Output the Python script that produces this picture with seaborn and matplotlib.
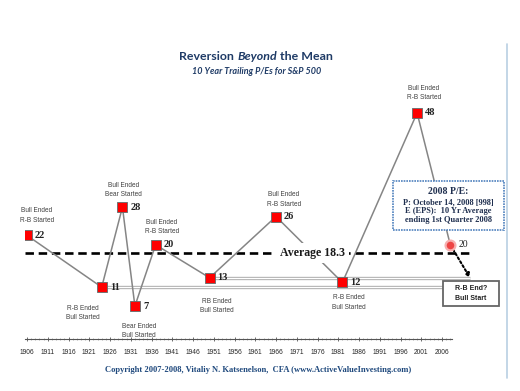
"""
Reversion Beyond the Mean - 10 year trailing P/Es for the S&P 500.
"""
import matplotlib
matplotlib.use("Agg")
import matplotlib.pyplot as plt
import matplotlib.patches as mpatches
import seaborn as sns
import pandas as pd

# Data
years = [1906, 1924, 1929, 1932, 1937, 1950, 1966, 1982, 2000]
pe_values = [22, 11, 28, 7, 20, 13, 26, 12, 48]
notes = ["Bull Ended\nR-B Started", "R-B Ended\nBull Started", "Bull Ended\nBear Started",
         "Bear Ended\nBull Started", "Bull Ended\nR-B Started", "RB Ended\nBull Started",
         "Bull Ended\nR-B Started", "R-B Ended\nBull Started", "Bull Ended\nR-B Started"]
current_year = 2008
current_pe = 20
average_pe = 18.3
tick_years = list(range(1906, 2007, 5))
box_lines = ["P: October 14, 2008 [998]", "E (EPS):  10 Yr Average", "ending 1st Quarter 2008"]

df = pd.DataFrame({"year": years, "pe": pe_values})
df_line = pd.concat([df, pd.DataFrame({"year": [current_year], "pe": [current_pe]})],
                    ignore_index=True)

sns.set_theme(style="white")
plt.rcParams["font.family"] = ["Liberation Sans", "DejaVu Sans"]

W, H = 520, 391
fig = plt.figure(figsize=(W / 100, H / 100), dpi=100)
ax = fig.add_axes([25 / W, 1 - 339 / H, 427 / W, 235.5 / H])

px_per_year = 4.15
ax.set_xlim(1906 - 2 / px_per_year, 1906 + 425 / px_per_year)
ax.set_ylim(0, 50)

# main series
sns.lineplot(data=df_line, x="year", y="pe", color="#858585", lw=1.1, ax=ax, zorder=3)
sns.scatterplot(data=df, x="year", y="pe", marker="s", s=46, color="#ff0000",
                edgecolor="#5f6f6f", linewidth=0.6, ax=ax, zorder=5)
ax.scatter([current_year], [current_pe], s=50, color="#ee4444", edgecolor="#f6b0b0",
           linewidth=1.6, zorder=6, clip_on=False)

# reference lines from the lows
end_13 = 1906 + 443 / px_per_year
end_11 = 1906 + 416 / px_per_year
for yr, val, end in [(years[5], pe_values[5], end_13), (years[1], pe_values[1], end_11)]:
    ax.plot([yr, end], [val, val], color="#b0b0b0", lw=2.4, zorder=2, clip_on=False,
            solid_capstyle="butt")
    ax.plot([yr, end], [val, val], color="white", lw=0.9, zorder=2, clip_on=False,
            solid_capstyle="butt")

# average line
ax.plot([ax.get_xlim()[0], 1906 + 445 / px_per_year], [average_pe, average_pe],
        color="black", lw=1.9, linestyle=(0, (3.2, 1.8)), zorder=1, clip_on=False)
ax.text(1906 + 285 / px_per_year, average_pe, f"Average {average_pe}",
        family="Liberation Serif", fontweight="bold", fontsize=8.6, color="#1a1a1a",
        ha="center", va="center", zorder=4,
        bbox=dict(facecolor="white", edgecolor="none", pad=3))

# dotted arrow to the R-B box
ax.annotate("", xy=(end_13, pe_values[5]), xytext=(current_year, current_pe),
            arrowprops=dict(arrowstyle="-|>", linestyle=(0, (1, 1.2)), lw=1.5,
                            color="black", shrinkA=4, shrinkB=0, mutation_scale=6),
            annotation_clip=False, zorder=4)

# value labels and notes
note_offsets = [(10, 20), (-19, -26), (1, 17), (4, -25), (6, 18),
                (7, -28), (8, 17), (6, -20), (7, 20)]
for yr, val, note, (dx, dy) in zip(years, pe_values, notes, note_offsets):
    ax.annotate(str(val), (yr, val), xytext=(8, 0), textcoords="offset pixels",
                family="Liberation Serif", fontweight="bold", fontsize=7.5,
                color="#222222", ha="left", va="center", zorder=6)
    ax.annotate(note, (yr, val), xytext=(dx, dy), textcoords="offset pixels",
                fontsize=4.7, color="#404040", ha="center", va="center",
                linespacing=1.45, annotation_clip=False)
ax.annotate(str(current_pe), (current_year, current_pe), xytext=(8, 0),
            textcoords="offset pixels", family="Liberation Serif", fontsize=7,
            color="#222222", ha="left", va="center", annotation_clip=False)

# axes styling
for side in ["left", "right", "top"]:
    ax.spines[side].set_visible(False)
ax.spines["bottom"].set_color("#555555")
ax.spines["bottom"].set_linewidth(0.8)
ax.set_xticks(tick_years)
ax.set_xticks(range(1906, 2009), minor=True)
ax.set_xticklabels([str(t) for t in tick_years])
ax.tick_params(axis="x", which="major", direction="inout", length=3, width=0.6,
               color="#555555", labelsize=4.8, pad=6, bottom=True)
ax.tick_params(axis="x", which="minor", direction="inout", length=2, width=0.4,
               color="#777777", bottom=True)
ax.set_yticks([])
ax.set_xlabel("")
ax.set_ylabel("")
ax.patch.set_alpha(0)


def fx(px):
    return px / W


def fy(py):
    return 1 - py / H


# 2008 P/E callout box
fig.patches.append(mpatches.Rectangle((fx(393), fy(230)), fx(111), 49 / H,
                                      transform=fig.transFigure, facecolor="white",
                                      edgecolor="#4f81bd", lw=1.2, linestyle=(0, (1, 0.6)),
                                      zorder=5))
fig.text(fx(448.5), fy(191.5), "2008 P/E:", family="Liberation Serif", fontweight="bold",
         fontsize=7, color="#1f2f4f", ha="center", va="center", zorder=6)
for i, line in enumerate(box_lines):
    fig.text(fx(448.5), fy(202 + 8.8 * i), line, family="Liberation Serif",
             fontweight="bold", fontsize=6, color="#1f2f4f", ha="center", va="center",
             zorder=6)

# R-B End box
fig.patches.append(mpatches.Rectangle((fx(443), fy(306)), fx(56), 25 / H,
                                      transform=fig.transFigure, facecolor="white",
                                      edgecolor="#666666", lw=1.3, zorder=5))
fig.text(fx(471), fy(293.5), "R-B End?\nBull Start", fontweight="bold", fontsize=5,
         color="#222222", ha="center", va="center", linespacing=1.55, zorder=6)

# right frame line
fig.add_artist(plt.Line2D([fx(507), fx(507)], [fy(44), fy(378)], color="#b9d0e3", lw=1.2))

# title, with italic middle word
title_y = fy(57)
renderer = fig.canvas.get_renderer()
parts = [("Reversion ", "normal"), ("Beyond", "italic"), (" the Mean", "normal")]
objs = []
for txt, style in parts:
    objs.append(fig.text(0, title_y, txt, family="Lato", fontweight="bold", style=style,
                         fontsize=8.9, color="#1f3b66", ha="left", va="center"))
widths = [o.get_window_extent(renderer).width for o in objs]
x0 = 256 - sum(widths) / 2
for o, w in zip(objs, widths):
    o.set_x(fx(x0))
    x0 += w

fig.text(fx(257), fy(71), "10 Year Trailing P/Es for S&P 500", family="Lato",
         fontweight="bold", style="italic", fontsize=6.5, color="#1f3b66",
         ha="center", va="center")

fig.text(fx(258), fy(370), "Copyright 2007-2008, Vitaliy N. Katsenelson,  CFA (www.ActiveValueInvesting.com)",
         family="Liberation Serif", fontweight="bold", fontsize=6.1, color="#1f497d",
         ha="center", va="center")

fig.savefig("out.png", dpi=100, facecolor="white")
